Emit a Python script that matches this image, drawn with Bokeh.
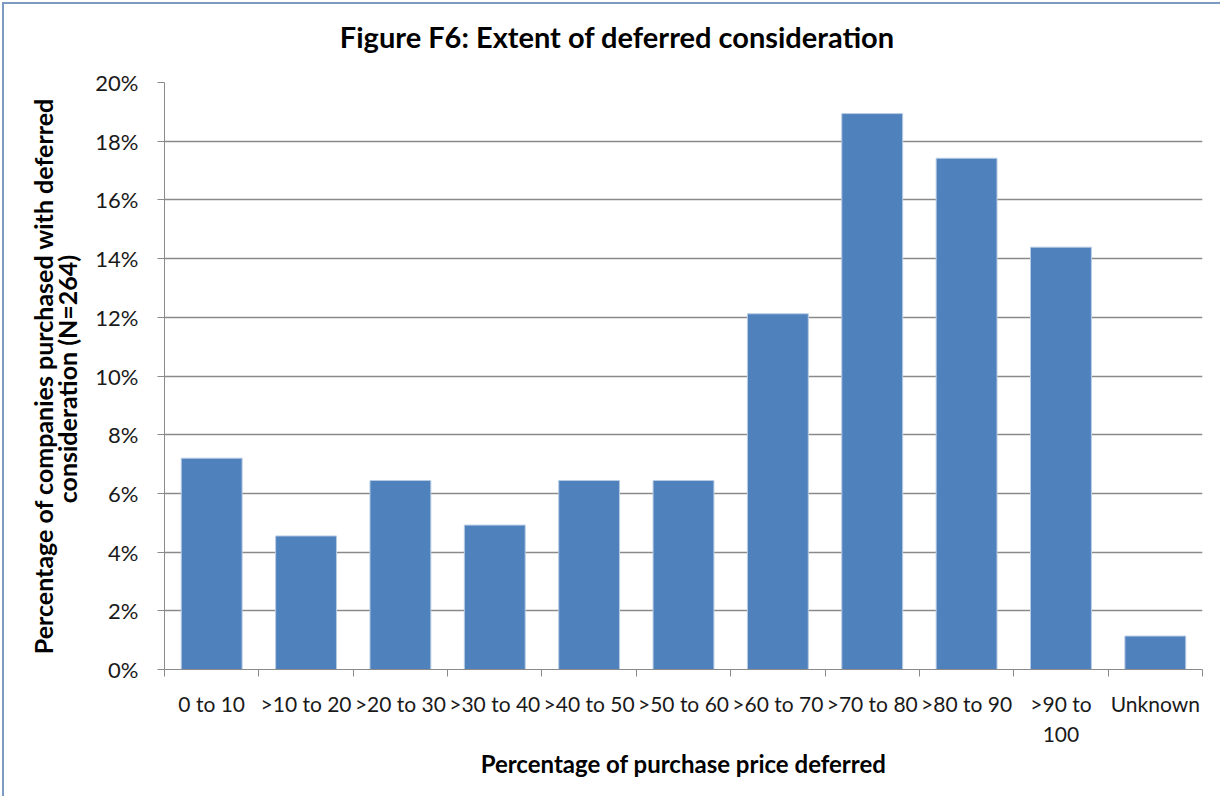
from bokeh.plotting import figure
from bokeh.models import ColumnDataSource, Range1d, FixedTicker, NumeralTickFormatter, Div
from bokeh.layouts import column
from bokeh.embed import file_html
from bokeh.resources import INLINE

# Share of companies (N=264) by percentage of purchase price deferred
categories = ["0 to 10", ">10 to 20", ">20 to 30", ">30 to 40", ">40 to 50",
              ">50 to 60", ">60 to 70", ">70 to 80", ">80 to 90", ">90 to\n100", "Unknown"]
share_pct = [7.20, 4.55, 6.44, 4.92, 6.44, 6.44, 12.12, 18.94, 17.42, 14.39, 1.14]
y_ticks = [0.00, 0.02, 0.04, 0.06, 0.08, 0.10, 0.12, 0.14, 0.16, 0.18, 0.20]

FONT = "Lato"
BAR = "#4F81BD"
GRID = "#8a8a8a"

xs = [i + 0.5 for i in range(len(categories))]
src = ColumnDataSource(dict(x=xs, top=[v / 100 for v in share_pct], cat=categories))

# chart title in its own strip above the plot
title = Div(text="Figure F6: Extent of deferred consideration", width=1216, height=54,
            styles={"font-family": FONT, "font-size": "29px", "font-weight": "bold",
                    "color": "black", "text-align": "center", "line-height": "56px",
                    "width": "1216px", "overflow": "visible"})

p = figure(width=1214, height=728, output_backend="svg", toolbar_location=None,
           x_range=Range1d(0, len(categories)), y_range=Range1d(0, 0.20),
           min_border_left=160, min_border_right=16, min_border_top=14, min_border_bottom=127)
p.outline_line_color = None
p.background_fill_color = "white"
p.border_fill_color = None

p.vbar(x="x", top="top", width=0.645, source=src, fill_color=BAR,
       line_color="#b8cce4", line_width=1)

# y axis
p.yaxis.ticker = FixedTicker(ticks=y_ticks)
p.yaxis.formatter = NumeralTickFormatter(format="0%")
p.yaxis.major_label_text_font = FONT
p.yaxis.major_label_text_font_size = "22px"
p.yaxis.major_label_text_color = "#1a1a1a"
p.yaxis.major_tick_out = 7
p.yaxis.major_tick_in = 0
p.yaxis.minor_tick_line_color = None
p.yaxis.axis_line_color = GRID
p.yaxis.major_tick_line_color = GRID
p.yaxis.major_label_standoff = 19
p.yaxis.axis_label = "Percentage of companies purchased with deferred\nconsideration  (N=264)"
p.yaxis.axis_label_text_font = FONT
p.yaxis.axis_label_text_font_size = "25px"
p.yaxis.axis_label_text_font_style = "bold"
p.yaxis.axis_label_text_color = "black"
p.yaxis.axis_label_text_line_height = 0.82
p.yaxis.axis_label_standoff = 10

# x axis: category names at bar centres, tick marks at category boundaries
p.xaxis.ticker = FixedTicker(ticks=xs, minor_ticks=list(range(len(categories) + 1)))
p.xaxis.major_label_overrides = {x: c for x, c in zip(xs, categories)}
p.xaxis.major_label_text_font = FONT
p.xaxis.major_label_text_font_size = "21px"
p.xaxis.major_label_text_color = "#1a1a1a"
p.xaxis.major_tick_line_color = None
p.xaxis.major_tick_out = 0
p.xaxis.major_tick_in = 0
p.xaxis.minor_tick_out = 7
p.xaxis.minor_tick_in = 0
p.xaxis.minor_tick_line_color = GRID
p.xaxis.axis_line_color = GRID
p.xaxis.major_label_standoff = 14
p.xaxis.axis_label = "Percentage of purchase price deferred"
p.xaxis.axis_label_text_font = FONT
p.xaxis.axis_label_text_font_size = "24px"
p.xaxis.axis_label_text_font_style = "bold"
p.xaxis.axis_label_text_color = "black"
p.xaxis.axis_label_standoff = 0

p.xgrid.grid_line_color = None
p.ygrid.grid_line_color = GRID
p.ygrid.grid_line_width = 1.3

page = column(title, p, spacing=0,
              styles={"border-left": "2px solid #7d9ac2", "border-top": "2px solid #7d9ac2",
                      "margin": "2px 0 0 2px", "background": "white"})

open("out.html", "w").write(file_html(page, INLINE))
